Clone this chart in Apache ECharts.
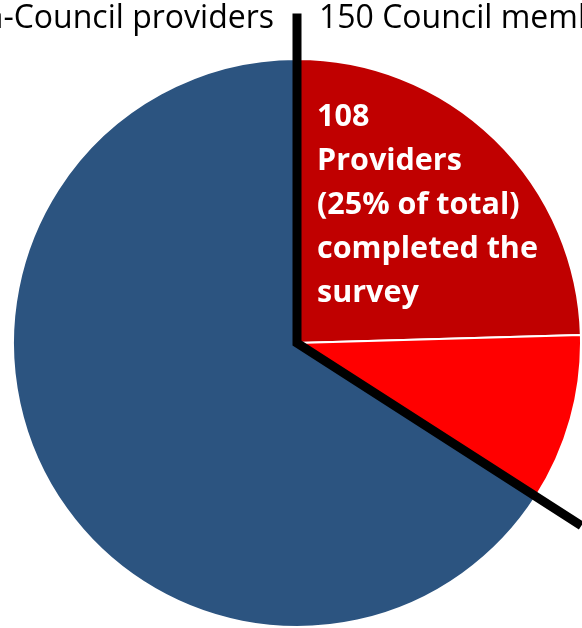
<!DOCTYPE html>
<html>
<head>
<meta charset="utf-8">
<script src="https://cdn.jsdelivr.net/npm/echarts@6/dist/echarts.min.js"></script>
<style>
html,body{margin:0;padding:0;background:#fff;}
#chart{width:582px;height:628px;}
</style>
</head>
<body>
<div id="chart"></div>
<script>
const categories = ['Council members – completed survey', 'Council members – did not complete', 'Non-Council providers'];
const values = [108, 42, 290];
const colors = ['#C00000', '#FF0000', '#2C5480'];
const leftTitle = '290 Non-Council providers';
const rightTitle = '150 Council members';
const innerLabel = ['108', 'Providers', '(25% of total)', 'completed the', 'survey'];

const cx = 297, cy = 343, R = 284;
const total = values.reduce((a, b) => a + b, 0);
const councilFrac = (values[0] + values[1]) / total;
const ang = (90 - councilFrac * 360) * Math.PI / 180;
const topLen = R * 1.16, diagLen = R * 1.19;
const pts = [
  [cx, cy - topLen],
  [cx, cy],
  [cx + diagLen * Math.cos(ang), cy - diagLen * Math.sin(ang)]
];

const graphics = [
  {
    type: 'polyline', z: 100,
    shape: { points: pts },
    style: { stroke: '#000', lineWidth: 9, fill: null, lineJoin: 'miter' }
  },
  {
    type: 'text', z: 100, x: 274, y: 19,
    style: { text: leftTitle, fill: '#000', font: '32px "Open Sans"', textAlign: 'right', textVerticalAlign: 'middle' }
  },
  {
    type: 'text', z: 100, x: 319, y: 19,
    style: { text: rightTitle, fill: '#000', font: '32px "Open Sans"', textAlign: 'left', textVerticalAlign: 'middle' }
  }
];
innerLabel.forEach((t, i) => {
  graphics.push({
    type: 'text', z: 100, x: 317, y: 117 + 44 * i,
    style: { text: t, fill: '#fff', font: 'bold 30.5px "Open Sans"', textAlign: 'left', textVerticalAlign: 'middle' }
  });
});

const chart = echarts.init(document.getElementById('chart'));
chart.setOption({
  animation: false,
  backgroundColor: '#fff',
  series: [{
    type: 'pie',
    center: [cx, cy],
    radius: [0, R],
    startAngle: 90,
    clockwise: true,
    label: { show: false },
    labelLine: { show: false },
    itemStyle: { borderColor: '#fff', borderWidth: 2 },
    data: categories.map((c, i) => ({ name: c, value: values[i], itemStyle: { color: colors[i] } }))
  }],
  graphic: graphics
});
</script>
</body>
</html>
